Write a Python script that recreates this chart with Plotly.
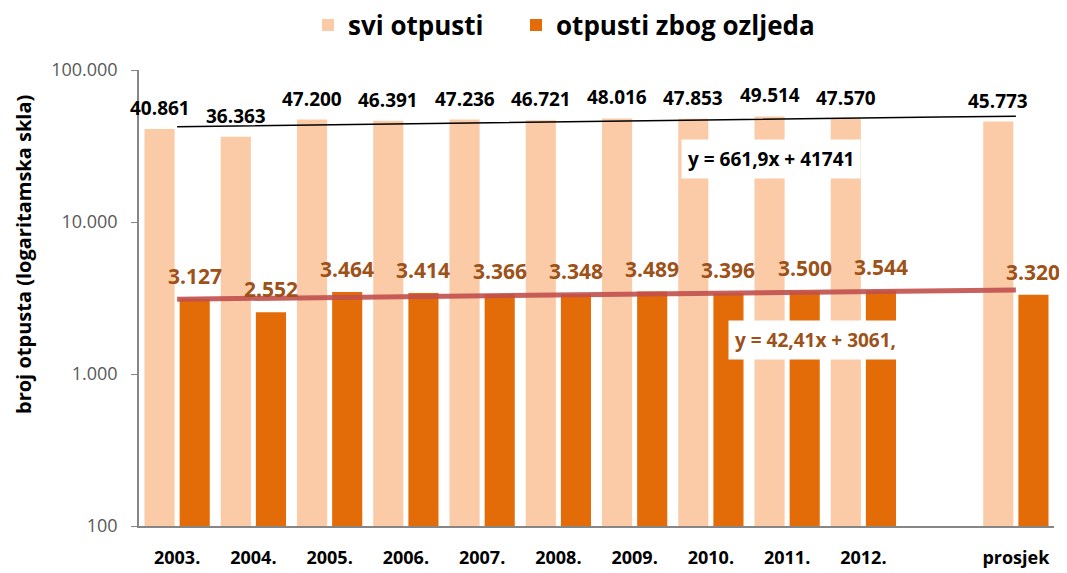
import plotly.graph_objects as go
import math

categories = ["2003.", "2004.", "2005.", "2006.", "2007.", "2008.", "2009.", "2010.", "2011.", "2012.", " ", "prosjek"]
svi_otpusti = [40861, 36363, 47200, 46391, 47236, 46721, 48016, 47853, 49514, 47570, None, 45773]
otpusti_ozljede = [3127, 2552, 3464, 3414, 3366, 3348, 3489, 3396, 3500, 3544, None, 3320]
trend_svi = (661.9, 41741)      # y = a*x + b
trend_ozljede = (42.41, 3061)
trend_svi_label = "y = 661,9x + 41741"
trend_ozljede_label = "y = 42,41x + 3061,"
y_title = "broj otpusta (logaritamska skla)"
y_tickvals = [100, 1000, 10000, 100000]
y_ticktext = ["100", "1.000", "10.000", "100.000"]

LIGHT = "#FACBA6"
DARK = "#E36C09"
BROWN = "#9C5218"
FONT = "Open Sans"

# the page body has an 8px default margin; work in page pixels and convert
OFF = 8
W, H = 1067 - OFF, 573 - OFF
PL, PR, PT, PB = 139, 1054, 70, 526          # plot area in page pixels
ML, MR, MT, MB = PL - OFF, W - (PR - OFF), PT - OFF, H - (PB - OFF)
PW, PH = W - ML - MR, H - MT - MB

def px(xp):
    return (xp - PL) / (PR - PL)

def py(yp):
    return (PB - yp) / (PB - PT)

BW = 0.395
fig = go.Figure()
fig.add_trace(go.Bar(x=categories, y=svi_otpusti, name="svi otpusti", marker_color=LIGHT,
                     width=BW, offset=-0.428, marker_line_width=0, legend="legend"))
fig.add_trace(go.Bar(x=categories, y=otpusti_ozljede, name="otpusti zbog ozljeda", marker_color=DARK,
                     width=BW, offset=0.033, marker_line_width=0, legend="legend2"))

# trendlines over category positions 1..12
n = len(categories)
ty1 = [trend_svi[0] * (i + 1) + trend_svi[1] for i in range(n)]
ty2 = [trend_ozljede[0] * (i + 1) + trend_ozljede[1] for i in range(n)]
fig.add_trace(go.Scatter(x=categories, y=ty1, mode="lines", line=dict(color="black", width=1.5),
                         showlegend=False, hoverinfo="skip"))
fig.add_trace(go.Scatter(x=categories, y=ty2, mode="lines", line=dict(color="rgba(192,80,77,0.9)", width=5),
                         showlegend=False, hoverinfo="skip"))

def fmt(v):
    return f"{v:,}".replace(",", ".")

slot = PW / n
ann = []
shift = (BW / 2 + 0.033) * slot
for i, v in enumerate(svi_otpusti):
    if v is None:
        continue
    ann.append(dict(x=i, y=math.log10(v), text=fmt(v), showarrow=False, xshift=-shift, yshift=21,
                    font=dict(family=FONT, size=19, color="black", weight="bold"),
                    xanchor="center", yanchor="middle"))
for i, v in enumerate(otpusti_ozljede):
    if v is None:
        continue
    ann.append(dict(x=i, y=math.log10(v), text=fmt(v), showarrow=False, xshift=shift, yshift=23,
                    font=dict(family=FONT, size=21, color=BROWN, weight="bold"),
                    xanchor="center", yanchor="middle"))

ann.append(dict(xref="paper", yref="paper", x=px(771), y=py(159), text=trend_svi_label,
                xanchor="center", yanchor="middle",
                showarrow=False, bgcolor="white", borderpad=6,
                font=dict(family=FONT, size=19, color="black", weight="bold")))
ann.append(dict(xref="paper", yref="paper", x=px(815), y=py(340), text=trend_ozljede_label,
                xanchor="center", yanchor="middle",
                showarrow=False, bgcolor="white", borderpad=6,
                font=dict(family=FONT, size=19, color=BROWN, weight="bold")))
ann.append(dict(xref="paper", yref="paper", x=px(23), y=py(255), text=y_title, textangle=-90,
                xanchor="center", yanchor="middle", showarrow=False,
                font=dict(family=FONT, size=20, color="black", weight="bold")))

leg_common = dict(orientation="h", yanchor="middle", y=py(25), xanchor="left",
                  font=dict(family=FONT, size=26, color="black", weight="bold"),
                  bgcolor="rgba(0,0,0,0)", itemwidth=30)

fig.update_layout(
    width=W, height=H,
    margin=dict(l=ML, r=MR, t=MT, b=MB, autoexpand=False),
    plot_bgcolor="white", paper_bgcolor="white",
    barmode="overlay",
    annotations=ann,
    font=dict(family=FONT),
    legend=dict(x=px(308), **leg_common),
    legend2=dict(x=px(516), **leg_common),
    xaxis=dict(type="category", categoryorder="array", categoryarray=categories,
               range=[-0.5, n - 0.5], showline=True, linecolor="#868686", linewidth=1.5,
               ticks="", ticklabelstandoff=15,
               tickfont=dict(family=FONT, size=18, color="black", weight="bold"),
               showgrid=False),
    yaxis=dict(type="log", range=[2, 5], tickvals=y_tickvals, ticktext=y_ticktext,
               showline=True, linecolor="#868686", linewidth=1.5, ticks="outside", ticklen=6,
               tickcolor="#868686", showgrid=False, zeroline=False, ticklabelstandoff=10,
               tickfont=dict(family=FONT, size=18, color="#595959")),
)

fig.write_html("out.html")
